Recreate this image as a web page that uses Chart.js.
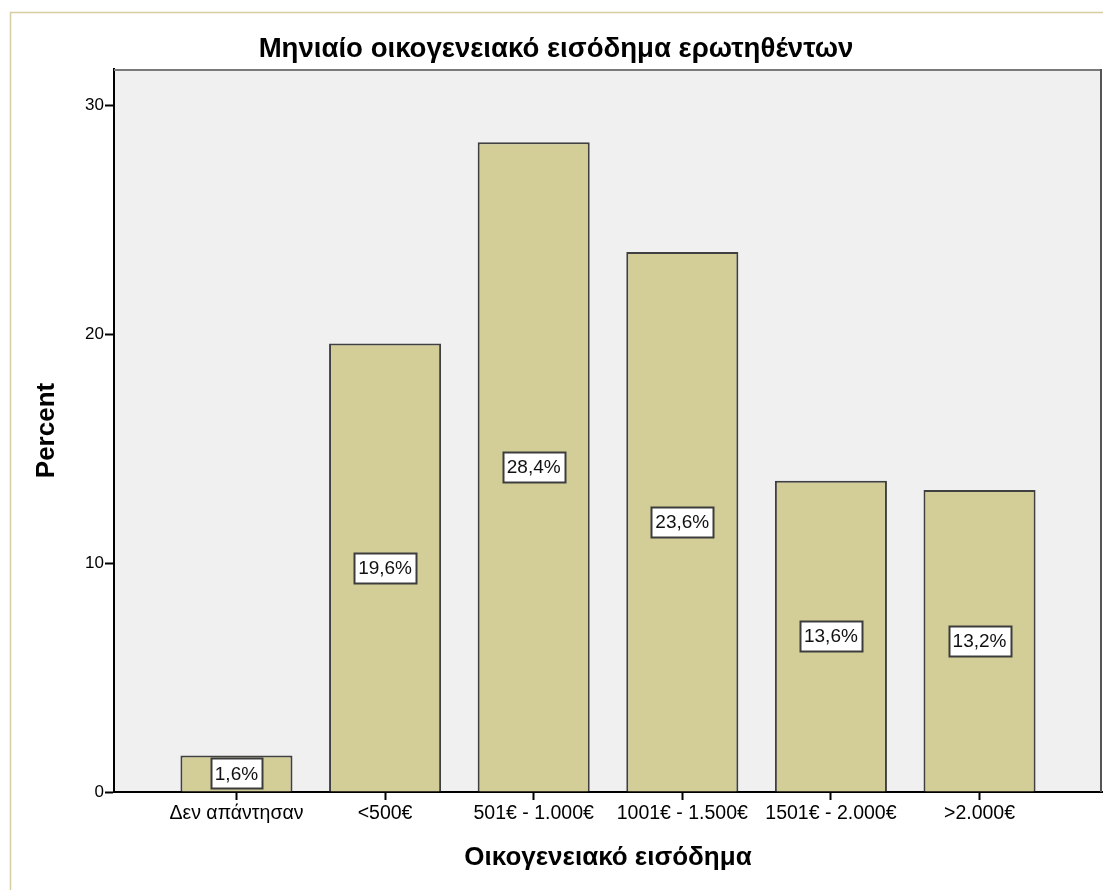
<!DOCTYPE html>
<html>
<head>
<meta charset="utf-8">
<style>
  html, body { margin: 0; padding: 0; background: #ffffff; }
  #wrap { width: 1103px; height: 890px; position: relative; }
</style>
<script src="https://cdn.jsdelivr.net/npm/chart.js@4.4.1/dist/chart.umd.min.js"></script>
</head>
<body>
<div id="wrap"><canvas id="chart" width="1103" height="890"></canvas></div>
<script>
// Monthly household income of respondents (percent of answers)
const categories = ['Δεν απάντησαν', '<500€', '501€ - 1.000€', '1001€ - 1.500€', '1501€ - 2.000€', '>2.000€'];
const percentValues = [1.6, 19.6, 28.4, 23.6, 13.6, 13.2];
const yTickValues = [0, 10, 20, 30];

const chartTitle = 'Μηνιαίο οικογενειακό εισόδημα ερωτηθέντων';
const xAxisTitle = 'Οικογενειακό εισόδημα';
const yAxisTitle = 'Percent';

const FONT = '"Liberation Sans", Arial, sans-serif';

// Outer panel frame, plot background and plot border
const framePlugin = {
  id: 'frame',
  beforeDraw(chart) {
    const { ctx, chartArea: a } = chart;
    ctx.save();
    ctx.fillStyle = '#ffffff';
    ctx.fillRect(0, 0, chart.width, chart.height);
    ctx.strokeStyle = '#d6cda4';
    ctx.lineWidth = 1.5;
    ctx.beginPath();
    ctx.moveTo(10.5, chart.height + 2);
    ctx.lineTo(10.5, 12.5);
    ctx.lineTo(chart.width + 2, 12.5);
    ctx.stroke();
    ctx.fillStyle = '#f0f0f0';
    ctx.fillRect(a.left, a.top, a.right - a.left, a.bottom - a.top);
    ctx.restore();
  },
  afterDatasetsDraw(chart) {
    const { ctx, chartArea: a } = chart;
    ctx.save();
    ctx.lineWidth = 2;
    ctx.strokeStyle = '#7a7a7a';
    ctx.beginPath();
    ctx.moveTo(a.left, a.top + 1);
    ctx.lineTo(a.right - 1, a.top + 1);
    ctx.stroke();
    ctx.strokeStyle = '#555555';
    ctx.beginPath();
    ctx.moveTo(a.right - 1, a.top);
    ctx.lineTo(a.right - 1, a.bottom);
    ctx.stroke();
    ctx.restore();
  }
};

// Boxed value labels in the middle of each bar
const valueLabelPlugin = {
  id: 'valueLabels',
  afterDatasetsDraw(chart) {
    const { ctx } = chart;
    const meta = chart.getDatasetMeta(0);
    const values = chart.data.datasets[0].data;
    ctx.save();
    ctx.font = '19px ' + FONT;
    ctx.textAlign = 'center';
    ctx.textBaseline = 'middle';
    meta.data.forEach((bar, i) => {
      const v = values[i].y;
      const text = v.toFixed(1).replace('.', ',') + '%';
      const cx = bar.x;
      const cy = (bar.y + bar.base) / 2;
      const w = Math.round(ctx.measureText(text).width + 8);
      const h = 30;
      const x0 = Math.round(cx - w / 2) + 0.5;
      const y0 = Math.round(cy - h / 2) + 0.5;
      ctx.fillStyle = '#ffffff';
      ctx.fillRect(x0, y0, w, h);
      ctx.strokeStyle = '#3c3c3c';
      ctx.lineWidth = 2;
      ctx.strokeRect(x0, y0, w, h);
      ctx.fillStyle = '#111111';
      ctx.fillText(text, cx, cy + 1);
    });
    ctx.restore();
  }
};

new Chart(document.getElementById('chart'), {
  type: 'bar',
  data: {
    datasets: [{
      data: percentValues.map((v, i) => ({ x: i, y: v })),
      backgroundColor: '#d3ce98',
      borderColor: '#404040',
      borderWidth: 2,
      barPercentage: 0.754,
      categoryPercentage: 1
    }]
  },
  options: {
    responsive: false,
    animation: false,
    devicePixelRatio: 1,
    layout: { padding: { left: 10, top: 0, right: 1, bottom: 0 } },
    plugins: {
      legend: { display: false },
      tooltip: { enabled: false },
      title: {
        display: true,
        text: chartTitle,
        color: '#000000',
        font: { family: FONT, size: 27.6, weight: 'bold' },
        padding: { top: 32.5, bottom: 3.4 }
      }
    },
    scales: {
      x: {
        type: 'linear',
        offset: false,
        min: -0.824,
        max: 5.824,
        afterBuildTicks(scale) {
          scale.ticks = categories.map((_, i) => ({ value: i }));
        },
        afterFit(scale) { scale.height = 98; },
        grid: {
          display: true,
          offset: false,
          drawOnChartArea: false,
          drawTicks: true,
          tickLength: 8,
          tickWidth: 2,
          tickColor: '#000000'
        },
        border: { display: true, color: '#000000', width: 2 },
        ticks: {
          color: '#000000',
          padding: 2,
          maxRotation: 0,
          autoSkip: false,
          font: { family: FONT, size: 19.5 },
          callback: (value) => categories[value]
        },
        title: {
          display: true,
          text: xAxisTitle,
          color: '#000000',
          font: { family: FONT, size: 26, weight: 'bold' },
          padding: { top: 0, bottom: 16.4 }
        }
      },
      y: {
        min: 0,
        max: 31.6,
        afterBuildTicks(scale) {
          scale.ticks = yTickValues.map(v => ({ value: v }));
        },
        afterFit(scale) { scale.width = 104; },
        grid: {
          display: true,
          drawOnChartArea: false,
          drawTicks: true,
          tickLength: 9,
          tickWidth: 2,
          tickColor: '#000000'
        },
        border: { display: true, color: '#000000', width: 2 },
        ticks: {
          color: '#000000',
          padding: 1,
          font: { family: FONT, size: 17 }
        },
        title: {
          display: true,
          text: yAxisTitle,
          color: '#000000',
          font: { family: FONT, size: 26, weight: 'bold' },
          padding: { top: 21.4, bottom: 0 }
        }
      }
    }
  },
  plugins: [framePlugin, valueLabelPlugin]
});
</script>
</body>
</html>
